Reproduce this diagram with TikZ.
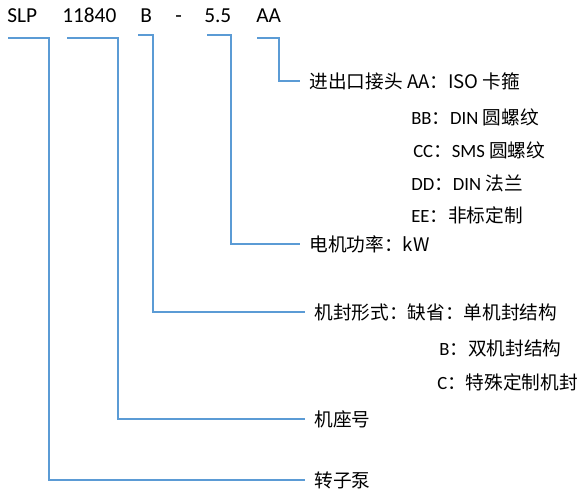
\documentclass[tikz,border=0pt]{standalone}
\usepackage{fontspec}
\setmainfont{Carlito}
\newfontfamily\cjk{Noto Sans CJK SC}
\usetikzlibrary{positioning}
\definecolor{leaderblue}{HTML}{5B9BD5}

\begin{document}
\begin{tikzpicture}[x=0.75pt,y=-0.75pt,
  code/.style={font=\fontsize{16}{19}\selectfont,anchor=base west,inner sep=0pt},
  item/.style={font=\fontsize{14}{17}\selectfont,anchor=west,inner xsep=7pt,inner ysep=0pt},
  sub/.style={font=\fontsize{14}{17}\selectfont,anchor=west,inner sep=0pt},
  leader/.style={draw=leaderblue,line width=0.8pt}]
  \useasboundingbox (0,0) rectangle (588,498);
  % model code
  \node[code] (slp) at (7,23) {SLP};
  \node[code] (frame) at (62,23) {11840};
  \node[code] (seal) at (140,23) {B};
  \node[code] (dash) at (175,23) {-};
  \node[code] (power) at (204,23) {5.5};
  \node[code] (conn) at (256,23) {AA};
  % start of each leader
  \coordinate (s1) at (8,38);
  \coordinate (s2) at (67,38);
  \coordinate (s3) at (138,35);
  \coordinate (s4) at (207,35);
  \coordinate (s5) at (257,38);
  % meanings
  \node[item] (connlbl) at (300,81) {{\cjk 进出口接头 AA：ISO 卡箍}};
  \node[sub] (bb) at (411,117) {BB{\cjk ：}DIN {\cjk 圆螺纹}};
  \node[sub] (cc) at (413,150) {CC{\cjk ：}SMS {\cjk 圆螺纹}};
  \node[sub] (dd) at (411,183) {DD{\cjk ：}DIN {\cjk 法兰}};
  \node[sub] (ee) at (411,215) {EE{\cjk ：非标定制}};
  \node[item] (powerlbl) at (300,244) {{\cjk 电机功率：kW}};
  \node[item] (seallbl) at (305,312) {{\cjk 机封形式：缺省：单机封结构}};
  \node[sub] (sealb) at (439,348) {B{\cjk ：双机封结构}};
  \node[sub] (sealc) at (437,382) {C{\cjk ：特殊定制机封}};
  \node[item] (framelbl) at (305,419) {{\cjk 机座号}};
  \node[item] (pumplbl) at (305,480) {{\cjk 转子泵}};
  % leaders
  \draw[leader] (s1) -- ++(41,0) |- (pumplbl.west);
  \draw[leader] (s2) -- ++(51,0) |- (framelbl.west);
  \draw[leader] (s3) -- ++(15,0) |- (seallbl.west);
  \draw[leader] (s4) -- ++(24,0) |- (powerlbl.west);
  \draw[leader] (s5) -- ++(22,0) |- (connlbl.west);
\end{tikzpicture}
\end{document}
